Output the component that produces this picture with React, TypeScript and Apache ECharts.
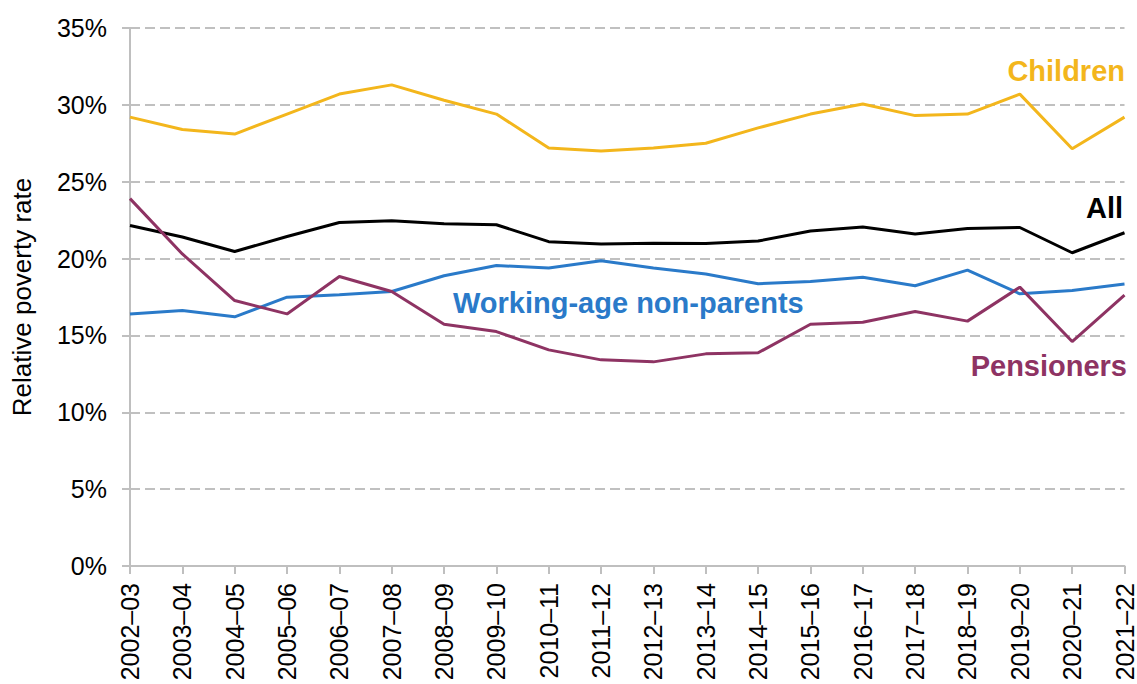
import React, { useEffect, useRef } from "react";
import * as echarts from "echarts";

const categories = [
  "2002–03", "2003–04", "2004–05", "2005–06", "2006–07", "2007–08", "2008–09",
  "2009–10", "2010–11", "2011–12", "2012–13", "2013–14", "2014–15", "2015–16",
  "2016–17", "2017–18", "2018–19", "2019–20", "2020–21", "2021–22",
];

const children = [29.2, 28.4, 28.1, 29.4, 30.7, 31.3, 30.3, 29.4, 27.2, 27.0, 27.2, 27.5, 28.5, 29.4, 30.05, 29.3, 29.4, 30.7, 27.15, 29.2];
const all = [22.15, 21.4, 20.46, 21.44, 22.35, 22.46, 22.26, 22.2, 21.1, 20.94, 21.0, 20.98, 21.14, 21.8, 22.05, 21.6, 21.96, 22.02, 20.38, 21.68];
const workingAge = [16.39, 16.62, 16.21, 17.49, 17.64, 17.86, 18.88, 19.55, 19.38, 19.86, 19.38, 18.99, 18.36, 18.51, 18.79, 18.23, 19.25, 17.71, 17.92, 18.34];
const pensioners = [23.9, 20.3, 17.27, 16.4, 18.83, 17.86, 15.73, 15.25, 14.06, 13.41, 13.28, 13.8, 13.87, 15.73, 15.86, 16.56, 15.93, 18.14, 14.6, 17.62];

const yTicks = { min: 0, max: 35, interval: 5 };

const COLORS = {
  children: "#F3B61C",
  all: "#000000",
  working: "#2A7AC9",
  pensioners: "#8E3363",
};

const FONT = "'Liberation Sans', Arial, sans-serif";

export default function App() {
  const ref = useRef<HTMLDivElement>(null);

  useEffect(() => {
    if (!ref.current) return;
    const chart = echarts.init(ref.current, null, { renderer: "svg" });
    const mkLine = (name: string, data: number[], color: string) => ({
      name,
      type: "line",
      data,
      showSymbol: false,
      symbol: "none",
      lineStyle: { color, width: 3 },
      itemStyle: { color },
    });
    chart.setOption({
      animation: false,
      backgroundColor: "#ffffff",
      textStyle: { fontFamily: FONT },
      grid: { left: 130, right: 12, top: 28, bottom: 118, containLabel: false },
      xAxis: {
        type: "category",
        data: categories,
        boundaryGap: false,
        axisLine: { show: true, lineStyle: { color: "#BFBFBF", width: 2 } },
        axisTick: { show: true, length: 8, lineStyle: { color: "#BFBFBF", width: 2 } },
        axisLabel: {
          rotate: 90,
          interval: 0,
          margin: 17,
          fontSize: 25,
          color: "#000",
          fontFamily: FONT,
        },
        splitLine: { show: false },
      },
      yAxis: {
        type: "value",
        min: yTicks.min,
        max: yTicks.max,
        interval: yTicks.interval,
        name: "Relative poverty rate",
        nameLocation: "middle",
        nameRotate: 90,
        nameGap: 95,
        nameTextStyle: { fontSize: 26, color: "#000", fontFamily: FONT },
        axisLine: { show: true, lineStyle: { color: "#BFBFBF", width: 2 } },
        axisTick: { show: true, length: 8, lineStyle: { color: "#BFBFBF", width: 2 } },
        axisLabel: {
          formatter: "{value}%",
          margin: 23,
          fontSize: 25,
          color: "#000",
          fontFamily: FONT,
        },
        splitLine: {
          show: true,
          lineStyle: { color: "#C0C0C0", width: 2, type: [10, 5] },
        },
      },
      series: [
        mkLine("Children", children, COLORS.children),
        mkLine("Working-age non-parents", workingAge, COLORS.working),
        mkLine("All", all, COLORS.all),
        mkLine("Pensioners", pensioners, COLORS.pensioners),
      ],
      graphic: [
        {
          type: "text",
          x: 1125,
          y: 71,
          style: {
            text: "Children",
            fill: COLORS.children,
            font: `bold 29px ${FONT}`,
            align: "right",
            verticalAlign: "middle",
          },
        },
        {
          type: "text",
          x: 1123,
          y: 208,
          style: {
            text: "All",
            fill: COLORS.all,
            font: `bold 29px ${FONT}`,
            align: "right",
            verticalAlign: "middle",
          },
        },
        {
          type: "text",
          x: 453,
          y: 303,
          style: {
            text: "Working-age non-parents",
            fill: COLORS.working,
            font: `bold 29px ${FONT}`,
            align: "left",
            verticalAlign: "middle",
          },
        },
        {
          type: "text",
          x: 1127,
          y: 366,
          style: {
            text: "Pensioners",
            fill: COLORS.pensioners,
            font: `bold 29px ${FONT}`,
            align: "right",
            verticalAlign: "middle",
          },
        },
      ],
    });
    return () => chart.dispose();
  }, []);

  return <div ref={ref} style={{ width: 1137, height: 684, position: "absolute", left: 0, top: 0 }} />;
}
